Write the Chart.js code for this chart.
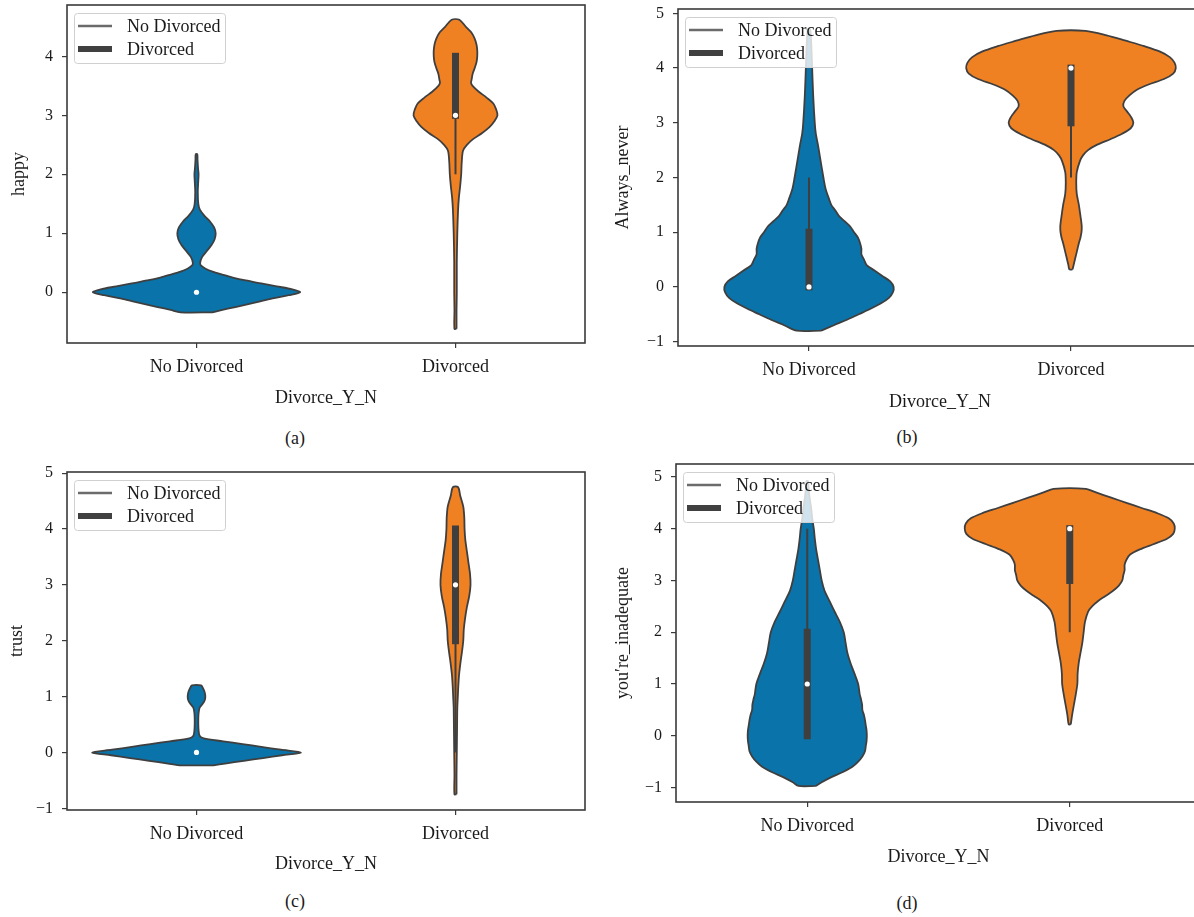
<!DOCTYPE html>
<html>
<head>
<meta charset="utf-8">
<script src="https://cdn.jsdelivr.net/npm/chart.js@4.4.0/dist/chart.umd.min.js"></script>
<style>
    html, body { margin: 0; padding: 0; background: #fff; overflow: hidden; }
    body { width: 1194px; height: 917px; position: relative; font-family: "Liberation Serif", "Times New Roman", serif; }
    canvas { position: absolute; }
    .caption { position: absolute; font-size: 18px; line-height: 18px; color: #1a1a1a; transform: translateX(-50%); white-space: nowrap; }
</style>
</head>
<body>
<canvas id="chart-a" width="600" height="410" style="left:0px;top:0px"></canvas>
<canvas id="chart-b" width="610" height="414" style="left:600px;top:0px"></canvas>
<canvas id="chart-c" width="600" height="420" style="left:0px;top:455px"></canvas>
<canvas id="chart-d" width="610" height="413" style="left:600px;top:455px"></canvas>
<div class="caption" style="left:295px;top:429px">(a)</div>
<div class="caption" style="left:907px;top:428px">(b)</div>
<div class="caption" style="left:295px;top:892px">(c)</div>
<div class="caption" style="left:907px;top:894px">(d)</div>
<script>
var categories = ["No Divorced", "Divorced"];
var seriesNames = ["No Divorced", "Divorced"];
var xTitle = "Divorce_Y_N";

// violin outlines: value levels and half widths (in category units)
var happyNoY = [-0.34, -0.3, -0.25, -0.2, -0.15, -0.1, -0.05, 0, 0.05, 0.1, 0.15, 0.2, 0.25, 0.3, 0.35, 0.4, 0.45, 0.5, 0.6, 0.7, 0.8, 0.9, 1.0, 1.1, 1.2, 1.3, 1.4, 1.5, 1.7, 1.9, 2.0, 2.1, 2.25, 2.34];
var happyNoW = [0.062, 0.1, 0.15, 0.2, 0.25, 0.3, 0.356, 0.4, 0.37, 0.31, 0.25, 0.19, 0.14, 0.1, 0.062, 0.035, 0.018, 0.014, 0.022, 0.04, 0.058, 0.07, 0.074, 0.068, 0.052, 0.03, 0.013, 0.007, 0.005, 0.007, 0.008, 0.006, 0.004, 0.003];
var happyDivY = [-0.62, -0.3, 0, 0.5, 1.0, 1.4, 1.6, 1.8, 2.0, 2.2, 2.4, 2.5, 2.6, 2.7, 2.8, 2.9, 3.0, 3.1, 3.2, 3.3, 3.4, 3.5, 3.55, 3.6, 3.7, 3.8, 3.9, 4.0, 4.1, 4.2, 4.3, 4.4, 4.5, 4.62];
var happyDivW = [0.004, 0.004, 0.005, 0.005, 0.007, 0.01, 0.013, 0.018, 0.022, 0.024, 0.029, 0.044, 0.069, 0.103, 0.131, 0.15, 0.162, 0.157, 0.146, 0.12, 0.09, 0.066, 0.06, 0.062, 0.066, 0.074, 0.081, 0.084, 0.084, 0.081, 0.074, 0.062, 0.04, 0.015];

var alwaysNoY = [-0.8, -0.7, -0.6, -0.5, -0.4, -0.3, -0.2, -0.1, 0, 0.1, 0.2, 0.3, 0.4, 0.5, 0.6, 0.7, 0.8, 0.9, 1.0, 1.1, 1.2, 1.3, 1.4, 1.5, 1.6, 1.8, 2.0, 2.2, 2.4, 2.6, 2.8, 3.0, 3.5, 4.0, 4.5, 4.72];
var alwaysNoW = [0.047, 0.095, 0.145, 0.19, 0.235, 0.275, 0.305, 0.32, 0.323, 0.31, 0.28, 0.25, 0.22, 0.21, 0.2, 0.2, 0.195, 0.187, 0.172, 0.158, 0.136, 0.114, 0.1, 0.085, 0.077, 0.063, 0.055, 0.048, 0.041, 0.034, 0.026, 0.022, 0.016, 0.012, 0.008, 0.004];
var alwaysDivY = [0.32, 0.4, 0.5, 0.6, 0.7, 0.8, 0.9, 1.0, 1.1, 1.2, 1.3, 1.5, 1.7, 1.9, 2.1, 2.3, 2.4, 2.5, 2.6, 2.7, 2.8, 2.9, 3.0, 3.1, 3.2, 3.3, 3.4, 3.5, 3.6, 3.7, 3.8, 3.9, 4.0, 4.1, 4.2, 4.3, 4.4, 4.5, 4.6, 4.68];
var alwaysDivW = [0.006, 0.01, 0.015, 0.02, 0.025, 0.03, 0.036, 0.04, 0.041, 0.039, 0.036, 0.03, 0.022, 0.02, 0.022, 0.034, 0.045, 0.065, 0.1, 0.15, 0.195, 0.228, 0.238, 0.23, 0.215, 0.2, 0.204, 0.223, 0.25, 0.296, 0.355, 0.39, 0.4, 0.395, 0.377, 0.34, 0.28, 0.209, 0.136, 0.055];

var trustNoY = [-0.23, -0.2, -0.15, -0.1, -0.05, 0, 0.05, 0.1, 0.15, 0.2, 0.25, 0.3, 0.4, 0.5, 0.6, 0.7, 0.8, 0.85, 0.9, 0.95, 1.0, 1.05, 1.1, 1.15, 1.2];
var trustNoW = [0.066, 0.11, 0.183, 0.257, 0.33, 0.403, 0.326, 0.25, 0.178, 0.103, 0.028, 0.012, 0.008, 0.007, 0.007, 0.008, 0.012, 0.02, 0.028, 0.033, 0.034, 0.033, 0.03, 0.025, 0.018];
var trustDivY = [-0.75, -0.4, 0, 0.4, 0.8, 1.0, 1.2, 1.4, 1.6, 1.8, 2.0, 2.2, 2.4, 2.6, 2.8, 3.0, 3.2, 3.4, 3.6, 3.8, 4.0, 4.2, 4.4, 4.6, 4.75];
var trustDivW = [0.004, 0.004, 0.005, 0.006, 0.007, 0.009, 0.011, 0.014, 0.019, 0.025, 0.03, 0.032, 0.037, 0.044, 0.053, 0.058, 0.056, 0.05, 0.044, 0.038, 0.035, 0.034, 0.03, 0.018, 0.01];

var inadNoY = [-0.97, -0.9, -0.8, -0.7, -0.6, -0.5, -0.4, -0.3, -0.2, -0.1, 0, 0.1, 0.2, 0.3, 0.4, 0.5, 0.6, 0.7, 0.8, 1.0, 1.2, 1.4, 1.6, 1.8, 2.0, 2.2, 2.4, 2.6, 2.8, 3.0, 3.2, 3.4, 3.6, 3.8, 4.0, 4.2, 4.4, 4.6, 4.8, 4.92];
var inadNoW = [0.033, 0.055, 0.092, 0.136, 0.172, 0.194, 0.21, 0.22, 0.223, 0.226, 0.227, 0.226, 0.223, 0.22, 0.216, 0.21, 0.209, 0.205, 0.2, 0.194, 0.18, 0.165, 0.153, 0.146, 0.139, 0.124, 0.104, 0.085, 0.066, 0.055, 0.048, 0.041, 0.034, 0.029, 0.025, 0.019, 0.015, 0.009, 0.005, 0.003];
var inadDivY = [0.22, 0.4, 0.6, 0.8, 1.0, 1.2, 1.4, 1.6, 1.8, 2.0, 2.2, 2.4, 2.5, 2.6, 2.7, 2.8, 2.9, 3.0, 3.1, 3.2, 3.3, 3.4, 3.5, 3.6, 3.7, 3.8, 3.9, 4.0, 4.1, 4.2, 4.3, 4.4, 4.5, 4.6, 4.7, 4.77];
var inadDivW = [0.004, 0.009, 0.016, 0.023, 0.029, 0.03, 0.034, 0.041, 0.048, 0.053, 0.058, 0.07, 0.085, 0.107, 0.136, 0.165, 0.187, 0.2, 0.204, 0.209, 0.209, 0.216, 0.23, 0.267, 0.318, 0.369, 0.394, 0.4, 0.396, 0.377, 0.333, 0.274, 0.216, 0.158, 0.1, 0.062];

// inner box: [No Divorced, Divorced]
var happyQ1 = [0, 3], happyQ3 = [0, 4], happyMedian = [0, 3], happyWhiskerLow = [0, 2], happyWhiskerHigh = [0, 4];
var alwaysQ1 = [0, 3], alwaysQ3 = [1, 4], alwaysMedian = [0, 4], alwaysWhiskerLow = [0, 2], alwaysWhiskerHigh = [2, 4];
var trustQ1 = [0, 2], trustQ3 = [0, 4], trustMedian = [0, 3], trustWhiskerLow = [0, 0], trustWhiskerHigh = [0, 4];
var inadQ1 = [0, 3], inadQ3 = [2, 4], inadMedian = [1, 4], inadWhiskerLow = [0, 2], inadWhiskerHigh = [4, 4];

var happyTicks = [0, 1, 2, 3, 4];
var alwaysTicks = [-1, 0, 1, 2, 3, 4, 5];
var trustTicks = [-1, 0, 1, 2, 3, 4, 5];
var inadTicks = [-1, 0, 1, 2, 3, 4, 5];

Chart.defaults.font.family = '"Liberation Serif", "Times New Roman", serif';
Chart.defaults.color = '#1a1a1a';

var outlineColor = '#3f3f3f';
var fillColors = ['#0a73a9', '#ef8123'];
var legendLineColors = ['#6b6b6b', '#404040'];
var legendLineWidths = [2.5, 6];

var framePlugin = {
    id: 'frame',
    afterDatasetsDraw: function (chart) {
        var a = chart.chartArea, ctx = chart.ctx;
        ctx.save();
        ctx.strokeStyle = '#3a3a3a';
        ctx.lineWidth = 1.6;
        ctx.strokeRect(a.left, a.top, a.right - a.left, a.bottom - a.top);
        ctx.restore();
    }
};

var legendPlugin = {
    id: 'boxLegend',
    afterDatasetsDraw: function (chart) {
        var a = chart.chartArea, ctx = chart.ctx;
        var x = a.left + 7.5, y = a.top + 8.5, w = 151, h = 50, r = 3;
        ctx.save();
        ctx.beginPath();
        ctx.moveTo(x + r, y);
        ctx.arcTo(x + w, y, x + w, y + h, r);
        ctx.arcTo(x + w, y + h, x, y + h, r);
        ctx.arcTo(x, y + h, x, y, r);
        ctx.arcTo(x, y, x + w, y, r);
        ctx.closePath();
        ctx.fillStyle = 'rgba(255,255,255,0.8)';
        ctx.fill();
        ctx.strokeStyle = '#d0d0d0';
        ctx.lineWidth = 1;
        ctx.stroke();
        ctx.font = '18px "Liberation Serif", "Times New Roman", serif';
        ctx.textBaseline = 'middle';
        seriesNames.forEach(function (name, i) {
            var cy = a.top + 21 + i * 23;
            ctx.beginPath();
            ctx.strokeStyle = legendLineColors[i];
            ctx.lineWidth = legendLineWidths[i];
            ctx.lineCap = 'butt';
            ctx.moveTo(a.left + 11, cy);
            ctx.lineTo(a.left + 45, cy);
            ctx.stroke();
            ctx.fillStyle = '#1a1a1a';
            ctx.fillText(name, a.left + 60, cy + 1);
        });
        ctx.restore();
    }
};

var violin = function (center, ys, ws, color) {
    var pts = [];
    for (var i = 0; i < ys.length; i++) {
        pts.push({ x: center + ws[i], y: ys[i] });
    }
    for (var j = ys.length - 1; j >= 0; j--) {
        pts.push({ x: center - ws[j], y: ys[j] });
    }
    pts.push({ x: center + ws[0], y: ys[0] });
    return {
        data: pts,
        borderColor: outlineColor,
        borderWidth: 1.8,
        backgroundColor: color,
        fill: 'shape',
        tension: 0.3,
        pointRadius: 0,
        order: 3
    };
};

var stick = function (center, from, to, width, cap, order) {
    return {
        data: [{ x: center, y: from }, { x: center, y: to }],
        borderColor: outlineColor,
        borderWidth: width,
        borderCapStyle: cap,
        fill: false,
        pointRadius: 0,
        order: order
    };
};

var medianDot = function (center, value) {
    return {
        data: [{ x: center, y: value }],
        showLine: false,
        fill: false,
        pointRadius: 2.6,
        pointBackgroundColor: '#ffffff',
        pointBorderWidth: 0,
        order: 0
    };
};

var drawPanel = function (p) {
    var datasets = [];
    for (var k = 0; k < categories.length; k++) {
        datasets.push(violin(k, p.ys[k], p.ws[k], fillColors[k]));
        if (p.whiskerHigh[k] > p.whiskerLow[k]) {
            datasets.push(stick(k, p.whiskerLow[k], p.whiskerHigh[k], 2, 'butt', 2));
        }
        if (p.q3[k] > p.q1[k]) {
            datasets.push(stick(k, p.q1[k], p.q3[k], 7, 'square', 1));
        }
        datasets.push(medianDot(k, p.median[k]));
    }

    new Chart(document.getElementById(p.canvas), {
        type: 'line',
        data: { datasets: datasets },
        options: {
            responsive: false,
            animation: false,
            events: [],
            layout: { padding: p.padding },
            plugins: { legend: { display: false }, tooltip: { enabled: false } },
            scales: {
                x: {
                    type: 'linear',
                    min: -0.5,
                    max: 1.5,
                    afterBuildTicks: function (s) {
                        s.ticks = categories.map(function (c, i) { return { value: i }; });
                    },
                    ticks: {
                        callback: function (v) { return categories[v]; },
                        font: { size: 18 },
                        color: '#1a1a1a',
                        padding: 8,
                        maxRotation: 0,
                        autoSkip: false
                    },
                    grid: { drawOnChartArea: false, drawTicks: true, tickLength: 5, color: '#3a3a3a', lineWidth: 1.2 },
                    border: { display: false },
                    title: { display: true, text: xTitle, font: { size: 18 }, color: '#1a1a1a', padding: { top: 0, bottom: p.xTitlePad } },
                    afterFit: function (s) {
                        s.height = p.axisHeight;
                        s.paddingLeft = 0;
                        s.paddingRight = 0;
                    }
                },
                y: {
                    type: 'linear',
                    min: p.yMin,
                    max: p.yMax,
                    afterBuildTicks: function (s) {
                        s.ticks = p.ticks.map(function (v) { return { value: v }; });
                    },
                    ticks: {
                        callback: function (v) { return v < 0 ? '\u2212' + Math.abs(v) : String(v); },
                        font: { size: 16 },
                        color: '#1a1a1a',
                        padding: 9
                    },
                    grid: { drawOnChartArea: false, drawTicks: true, tickLength: 5, color: '#3a3a3a', lineWidth: 1.2 },
                    border: { display: false },
                    title: { display: true, text: p.yTitle, font: { size: 18 }, color: '#1a1a1a', padding: { top: p.yTitlePad, bottom: 0 } },
                    afterFit: function (s) {
                        s.width = p.axisWidth;
                        s.paddingTop = 0;
                        s.paddingBottom = 0;
                    }
                }
            }
        },
        plugins: [framePlugin, legendPlugin]
    });
};

drawPanel({
    canvas: 'chart-a', yTitle: 'happy', ticks: happyTicks,
    ys: [happyNoY, happyDivY], ws: [happyNoW, happyDivW],
    q1: happyQ1, q3: happyQ3, median: happyMedian, whiskerLow: happyWhiskerLow, whiskerHigh: happyWhiskerHigh,
    yMin: -0.86, yMax: 4.87,
    padding: { left: 0, top: 5, right: 15, bottom: 0 }, axisWidth: 67, axisHeight: 67, yTitlePad: 8, xTitlePad: 1
});
drawPanel({
    canvas: 'chart-b', yTitle: 'Always_never', ticks: alwaysTicks,
    ys: [alwaysNoY, alwaysDivY], ws: [alwaysNoW, alwaysDivW],
    q1: alwaysQ1, q3: alwaysQ3, median: alwaysMedian, whiskerLow: alwaysWhiskerLow, whiskerHigh: alwaysWhiskerHigh,
    yMin: -1.08, yMax: 5.08,
    padding: { left: 0, top: 9, right: 8, bottom: 0 }, axisWidth: 78, axisHeight: 68, yTitlePad: 12, xTitlePad: 1
});
drawPanel({
    canvas: 'chart-c', yTitle: 'trust', ticks: trustTicks,
    ys: [trustNoY, trustDivY], ws: [trustNoW, trustDivW],
    q1: trustQ1, q3: trustQ3, median: trustMedian, whiskerLow: trustWhiskerLow, whiskerHigh: trustWhiskerHigh,
    yMin: -1.03, yMax: 5.02,
    padding: { left: 0, top: 17, right: 15, bottom: 0 }, axisWidth: 67, axisHeight: 65, yTitlePad: 6, xTitlePad: 0
});
drawPanel({
    canvas: 'chart-d', yTitle: 'you\u2032re_inadequate', ticks: inadTicks,
    ys: [inadNoY, inadDivY], ws: [inadNoW, inadDivW],
    q1: inadQ1, q3: inadQ3, median: inadMedian, whiskerLow: inadWhiskerLow, whiskerHigh: inadWhiskerHigh,
    yMin: -1.28, yMax: 5.25,
    padding: { left: 0, top: 9, right: 9, bottom: 0 }, axisWidth: 76, axisHeight: 66, yTitlePad: 12, xTitlePad: 0
});
</script>
</body>
</html>
